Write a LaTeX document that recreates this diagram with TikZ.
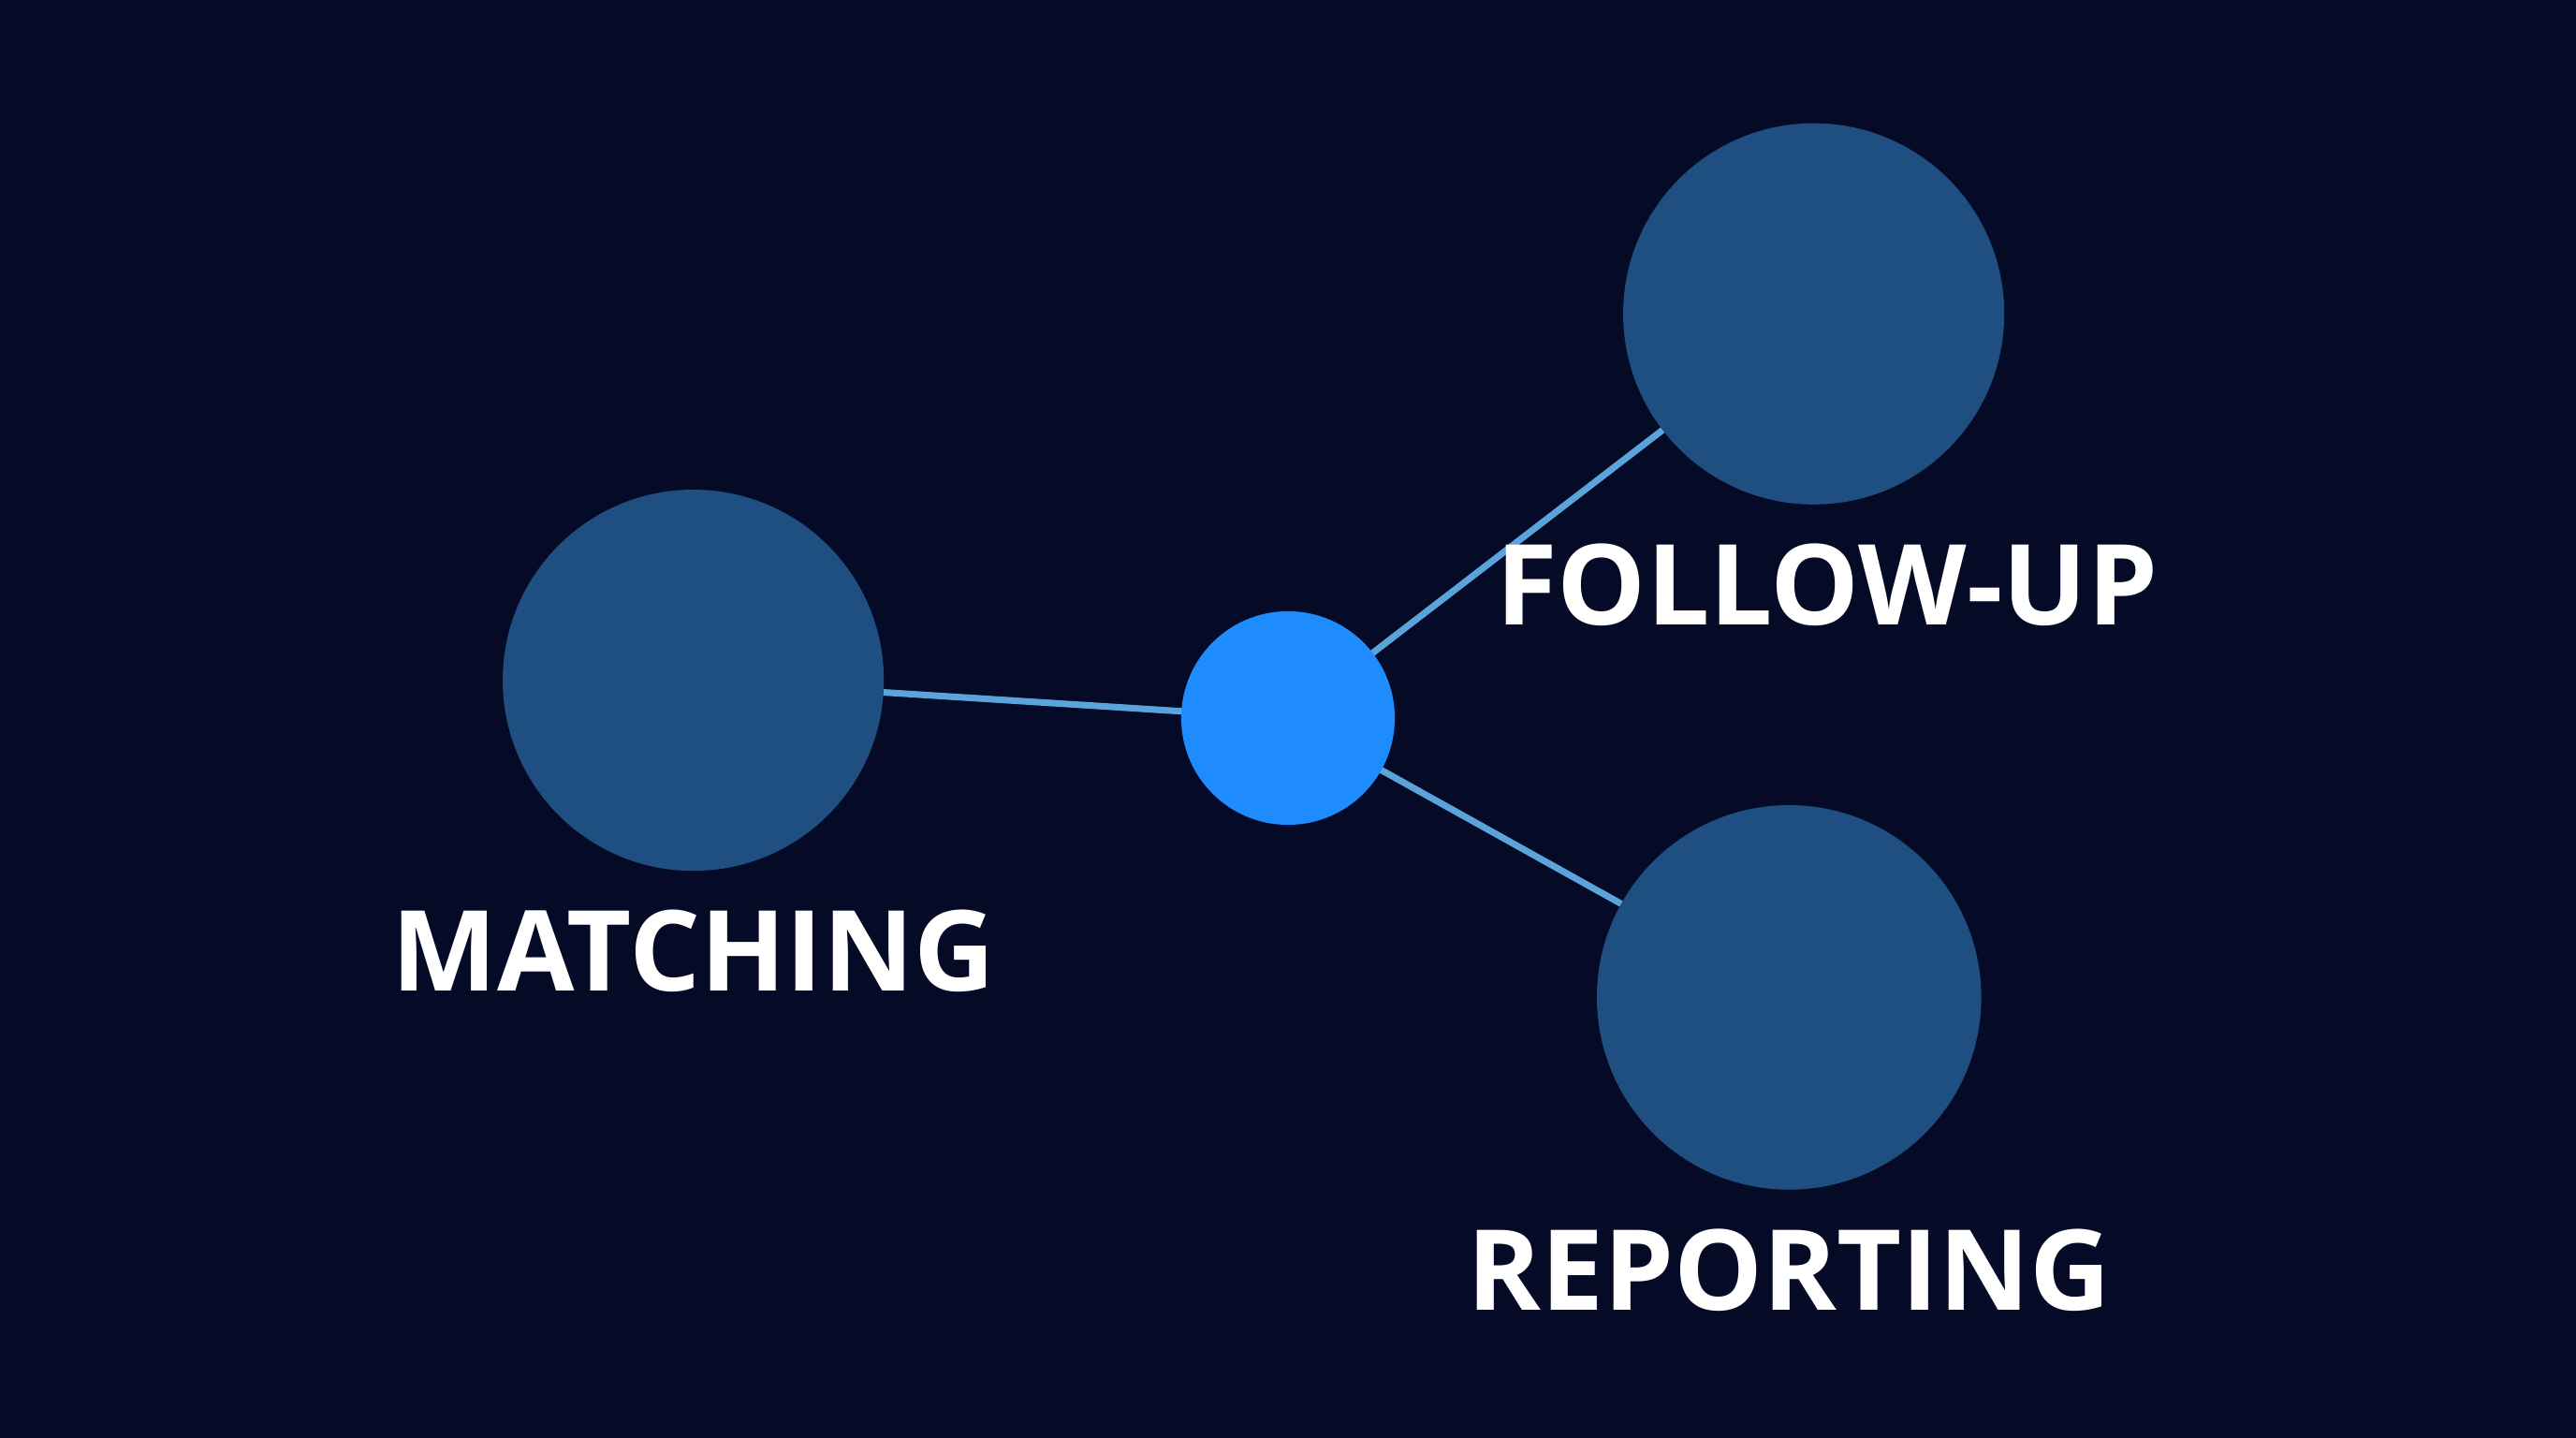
\documentclass[tikz,border=0pt]{standalone}
\usepackage{fontspec}
\setmainfont{Open Sans}
\begin{document}
\begin{tikzpicture}[x=0.01755cm,y=-0.01755cm,
  big/.style={circle,fill=nodeblue,minimum size=232*0.01755cm,inner sep=0},
  hub/.style={circle,fill=hubblue,minimum size=130*0.01755cm,inner sep=0},
  link/.style={draw=linkblue,line width=2pt},
  lab/.style={text=white,font=\fontsize{34}{40}\selectfont\bfseries,inner sep=0}]
\definecolor{bg}{HTML}{050B26}
\definecolor{nodeblue}{HTML}{1F4E80}
\definecolor{hubblue}{HTML}{1E8CFF}
\definecolor{linkblue}{HTML}{5BA4DB}
\fill[bg] (0,0) rectangle (1568,875);
\useasboundingbox (0,0) rectangle (1568,875);
\coordinate (cm) at (422,414);
\coordinate (cf) at (1104,191);
\coordinate (cr) at (1089,607);
\coordinate (ch) at (784,437);
\draw[link] (cm) -- (ch);
\draw[link] (cf) -- (ch);
\draw[link] (cr) -- (ch);
\node[big] (m) at (cm) {};
\node[big] (f) at (cf) {};
\node[big,minimum size=234*0.01755cm] (r) at (cr) {};
\node[hub] (h) at (ch) {};
\node[lab] (lm) at (422,579) {MATCHING};
\node[lab] (lf) at (1112,356) {FOLLOW-UP};
\node[lab] (lr) at (1089,773) {REPORTING};
\end{tikzpicture}
\end{document}
